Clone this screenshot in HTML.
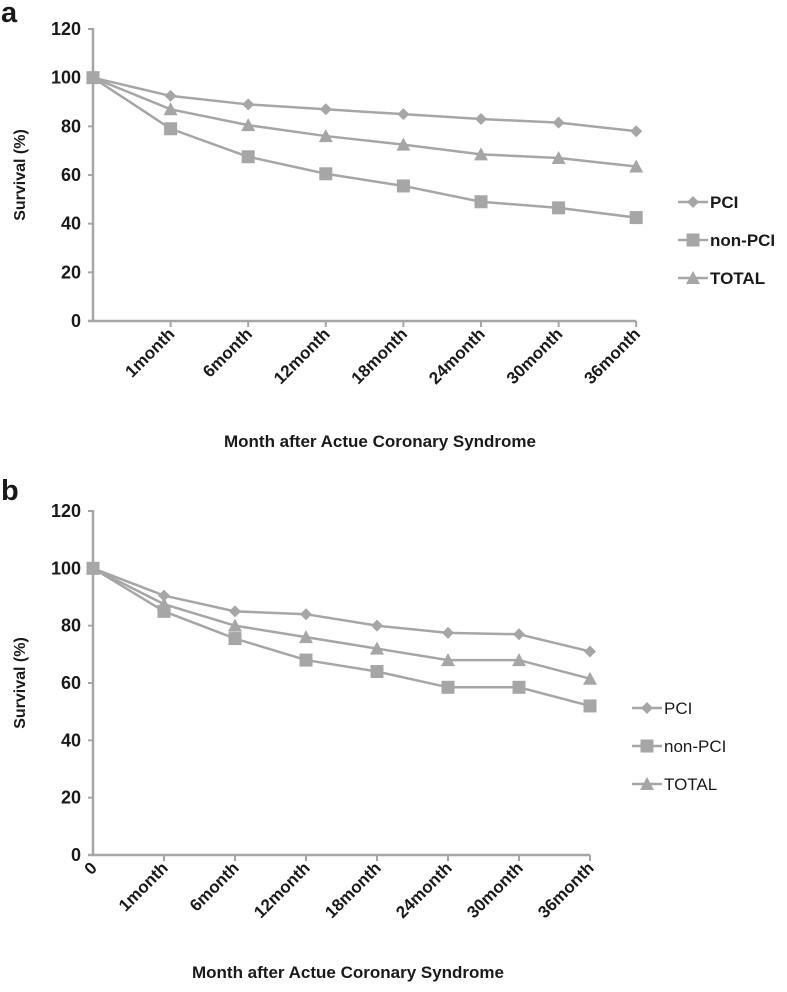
<!DOCTYPE html>
<html><head><meta charset="utf-8"><style>
body{margin:0;background:#fff;}
svg text{font-family:"Liberation Sans",Arial,sans-serif;fill:#1a1a1a;}
</style></head><body>
<svg id="root" width="787" height="987" xmlns="http://www.w3.org/2000/svg"></svg>
<script>
const categories=["0","1month","6month","12month","18month","24month","30month","36month"];
const yTicks=[0,20,40,60,80,100,120];
const seriesNames=["PCI","non-PCI","TOTAL"];
const aPCI=[100,92.5,89,87,85,83,81.5,78];
const aNon=[100,79,67.5,60.5,55.5,49,46.5,42.5];
const aTot=[100,87,80.5,76,72.5,68.5,67,63.5];
const bPCI=[100,90.5,85,84,80,77.5,77,71];
const bNon=[100,85,75.5,68,64,58.5,58.5,52];
const bTot=[100,87.5,80,76,72,68,68,61.5];

const NS="http://www.w3.org/2000/svg";
const root=document.getElementById('root');
const C="#a6a6a6";
function mk(tag,attrs,parent,name){const e=document.createElementNS(NS,tag);for(const k in attrs)e.setAttribute(k,attrs[k]);


(parent||root).appendChild(e);return e;}
function marker(g,type,x,y,name){
 if(type===0) mk('polygon',{points:`${x},${y-6} ${x+6},${y} ${x},${y+6} ${x-6},${y}`,fill:C},g,name);
 else if(type===1) mk('rect',{x:x-6.5,y:y-6.5,width:13,height:13,fill:C},g,name);
 else mk('polygon',{points:`${x},${y-7} ${x+7},${y+6} ${x-7},${y+6}`,fill:C},g,name);
}
function chart(cfg){
 const g=mk('g',{},root,cfg.name);
 const X0=cfg.x0,dx=cfg.dx,Y0=cfg.y0,Y120=cfg.y120;
 const xs=i=>X0+i*dx, ys=v=>Y0-(v/120)*(Y0-Y120);
 mk('text',{x:1,y:cfg.letterY,'font-size':29,'font-weight':'bold'},g,'panel-label').textContent=cfg.letter;
 mk('line',{x1:X0,y1:Y120-1,x2:X0,y2:Y0,stroke:C,'stroke-width':2.5},g,'y-axis');
 mk('line',{x1:X0-5,y1:Y0,x2:xs(7),y2:Y0,stroke:C,'stroke-width':2.5},g,'x-axis');
 yTicks.forEach(t=>{
  mk('line',{x1:X0-5,y1:ys(t),x2:X0,y2:ys(t),stroke:C,'stroke-width':2},g,'y-tick');
  const tx=mk('text',{x:X0-12,y:ys(t)+6,'font-size':18,'font-weight':'bold','text-anchor':'end'},g,'y-tick-label');tx.textContent=t;
 });
 categories.forEach((c,i)=>{
  if(i>0) mk('line',{x1:xs(i),y1:Y0,x2:xs(i),y2:Y0+6,stroke:C,'stroke-width':2},g,'x-tick');
  if(i===0 && !cfg.showZero) return;
  const tx=mk('text',{x:xs(i)+5,y:Y0+14,'font-size':17,'font-weight':'bold','text-anchor':'end',transform:`rotate(-45 ${xs(i)+5} ${Y0+14})`},g,'x-tick-label');tx.textContent=c;
 });
 const yt=mk('text',{x:0,y:0,'font-size':16,'font-weight':'bold','text-anchor':'middle',transform:`translate(25 ${(Y0+Y120)/2}) rotate(-90)`,'xml:space':'preserve'},g,'y-axis-title');yt.textContent='Survival  (%)';
 mk('text',{x:cfg.xtX,y:cfg.xtY,'font-size':17,'font-weight':'bold','text-anchor':'middle'},g,'x-axis-title').textContent='Month after Actue Coronary Syndrome';
 cfg.series.forEach((s,k)=>{
  const pts=s.map((v,i)=>`${xs(i)},${ys(v)}`).join(' ');
  mk('polyline',{points:pts,fill:'none',stroke:C,'stroke-width':2.5},g,'line-'+seriesNames[k].toLowerCase());
  s.forEach((v,i)=>marker(g,k,xs(i),ys(v),'point-'+seriesNames[k].toLowerCase()));
  const ly=cfg.legY+k*38;
  mk('line',{x1:cfg.legX,y1:ly,x2:cfg.legX+30,y2:ly,stroke:C,'stroke-width':2.5},g,'legend-line');
  marker(g,k,cfg.legX+15,ly,'legend-marker');
  const lt=mk('text',{x:cfg.legX+cfg.legTextDx,y:ly+6,'font-size':17,'font-weight':cfg.legBold?'bold':'normal'},g,'legend-entry');lt.textContent=seriesNames[k];
 });
}
chart({name:'chart-a',letter:'a',letterY:22,x0:93,dx:77.6,y0:321,y120:29,series:[aPCI,aNon,aTot],showZero:false,xtX:380,xtY:447,legX:678,legY:202,legTextDx:32,legBold:true});
chart({name:'chart-b',letter:'b',letterY:500,x0:93,dx:71,y0:855,y120:511,series:[bPCI,bNon,bTot],showZero:true,xtX:348,xtY:978,legX:632,legY:708,legTextDx:32,legBold:false});
</script>
</body></html>
